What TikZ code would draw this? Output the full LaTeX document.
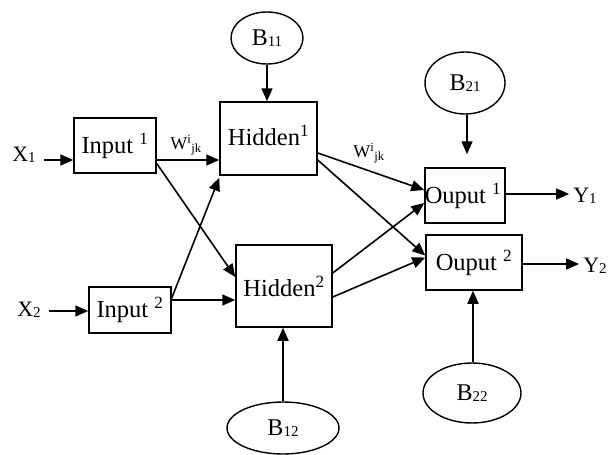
\documentclass[tikz,border=0pt]{standalone}
\usepackage{fontspec}
\setmainfont{Liberation Serif}
\usetikzlibrary{arrows.meta,calc,shapes.geometric}
\newcommand{\lowsub}[1]{\raisebox{-1pt}{\fontsize{15}{15}\selectfont #1}}
\begin{document}
\begin{tikzpicture}[x=1pt,y=-1pt,
  box/.style={draw,line width=1.5pt,inner sep=0pt,font=\fontsize{24.5}{28}\selectfont},
  bias/.style={draw,ellipse,line width=1.4pt,inner sep=0pt,font=\fontsize{24}{28}\selectfont},
  lbl/.style={inner sep=0pt,font=\fontsize{22}{26}\selectfont},
  wlbl/.style={inner sep=0pt,font=\fontsize{18}{21}\selectfont},
  arr/.style={line width=1.6pt,-{Triangle[length=13pt,width=11pt]}}]
\useasboundingbox (0,0) rectangle (608,455);
% boxes
\node[box,minimum width=82pt,minimum height=55pt] (in1) at (115,145.5) {Input \textsuperscript{1}};
\node[box,minimum width=82pt,minimum height=46pt] (in2) at (130,310) {Input \textsuperscript{2}};
\node[box,minimum width=97pt,minimum height=73pt] (hid1) at (268.5,138.5) {\raisebox{6pt}{Hidden\textsuperscript{1}}};
\node[box,minimum width=96pt,minimum height=82pt] (hid2) at (284,286) {Hidden\textsuperscript{2}};
\node[box,minimum width=80pt,minimum height=55pt] (out1) at (465,195.5) {\hspace*{-4pt}Ouput \textsuperscript{1}};
\node[box,minimum width=96pt,minimum height=55pt] (out2) at (474,262.5) {Ouput \textsuperscript{2}};
% biases
\node[bias,minimum width=72pt,minimum height=52pt] (b11) at (267,38) {B\lowsub{11}};
\node[bias,minimum width=80pt,minimum height=62pt] (b21) at (465,83) {B\lowsub{21}};
\node[bias,minimum width=112pt,minimum height=52pt] (b12) at (283,428) {B\lowsub{12}};
\node[bias,minimum width=98pt,minimum height=60pt] (b22) at (472,393) {B\lowsub{22}};
% inputs / outputs labels
\node[lbl] (x1) at (24,155) {X\lowsub{1}};
\node[lbl] (x2) at (29,310) {X\lowsub{2}};
\node[lbl] (y1) at (585,196) {Y\lowsub{1}};
\node[lbl] (y2) at (595,266) {Y\lowsub{2}};
% weight labels
\node[wlbl] (w1) at (186,145) {W\textsuperscript{i}\textsubscript{jk}};
\node[wlbl] (w2) at (369,153) {W\textsuperscript{i}\textsubscript{jk}};
% helper end points
\coordinate (o1e) at ($(out1.east)+(0,-1.5)$);
\coordinate (o2e) at ($(out2.east)+(0,1.5)$);
% connectors
\draw[arr] ($(x1.east)+(8,5)$) -- ($(in1.west)+(0,14.5)$);
\draw[arr] ($(x2.east)+(8,1)$) -- ($(in2.west)+(0,1)$);
\draw[arr] ($(in1.east)+(0,14.5)$) -- ($(hid1.west)+(0,21.5)$);
\draw[arr] ($(in1.east)+(0,18)$) -- ($(hid2.west)+(0,-9)$);
\draw[arr] ($(in2.east)+(0,-12)$) -- ($(hid1.south west)+(0,2)$);
\draw[arr] ($(in2.east)+(0,-10)$) -- ($(hid2.west)+(0,14)$);
\draw[arr] ($(hid1.east)+(0,14.5)$) -- ($(out1.west)+(0,-5.5)$);
\draw[arr] ($(hid1.east)+(0,21.5)$) -- ($(out2.west)+(0,-7)$);
\draw[arr] ($(hid2.east)+(0,-13)$) -- ($(out1.west)+(0,7.5)$);
\draw[arr] ($(hid2.east)+(0,11)$) -- ($(out2.west)+(0,-5)$);
\draw[arr] (o1e) -- ([xshift=-4pt]o1e -| y1.west);
\draw[arr] (o2e) -- ([xshift=-4pt]o2e -| y2.west);
\draw[arr] (b11.south) -- (b11.south |- hid1.north);
\draw[arr] ($(b21.south)+(2,0)$) -- ($(b21.south |- out1.north)+(2,-13)$);
\draw[arr] (b12.north) -- (b12.north |- hid2.south);
\draw[arr] ($(b22.north)+(1,0)$) -- ($(b22.north |- out2.south)+(1,0)$);
\end{tikzpicture}
\end{document}
